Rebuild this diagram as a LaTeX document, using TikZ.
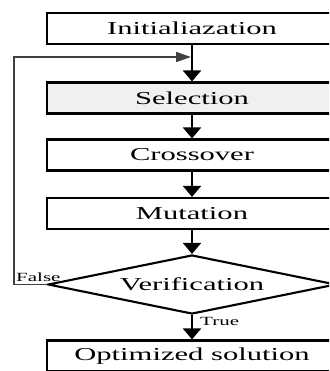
\documentclass[tikz,border=0pt]{standalone}
\usepackage{fontspec}
\setmainfont[FakeStretch=1.68]{Liberation Serif}
\usetikzlibrary{shapes.geometric,arrows.meta}
\tikzset{
  box/.style={draw, line width=2.1pt, minimum width=290pt, minimum height=31pt, inner sep=0pt,
    font=\fontsize{18.2}{20}\selectfont},
  arr/.style={line width=2pt, -{Triangle[length=11pt,width=18pt]}},
  fb/.style={line width=1.5pt, black!75, -{Triangle[length=15pt,width=10pt]}},
  small/.style={inner sep=0pt, font=\fontsize{12.5}{14}\selectfont}
}
\begin{document}
\begin{tikzpicture}[x=1pt,y=-1pt]
\useasboundingbox (0,0) rectangle (329,371);
\clip (0,0) rectangle (329,371);
\node[box] (init) at (192,28.5) {Initialiazation};
\node[box, fill=black!6] (sel) at (192,98) {Selection};
\node[box] (cross) at (192,155) {Crossover};
\node[box] (mut) at (192,213.5) {Mutation};
\node[draw, diamond, line width=2.1pt, shape aspect=4.8, minimum width=288pt, minimum height=59pt,
  inner sep=0pt, font=\fontsize{18.2}{20}\selectfont] (ver) at (192,284.5) {Verification};
\node[box] (opt) at (192,356) {Optimized solution};
\coordinate (join) at (191,57);
\draw[arr] (init) -- (sel);
\draw[arr] (sel) -- (cross);
\draw[arr] (cross) -- (mut);
\draw[arr] (mut) -- (ver);
\draw[arr] (ver) -- (opt);
\draw[fb] (ver.west) -- (14,284.5) |- (join);
\node[small, anchor=base west] (false) at (16,281) {False};
\node[small, anchor=base west] (true) at (200,325) {True};
\end{tikzpicture}
\end{document}
